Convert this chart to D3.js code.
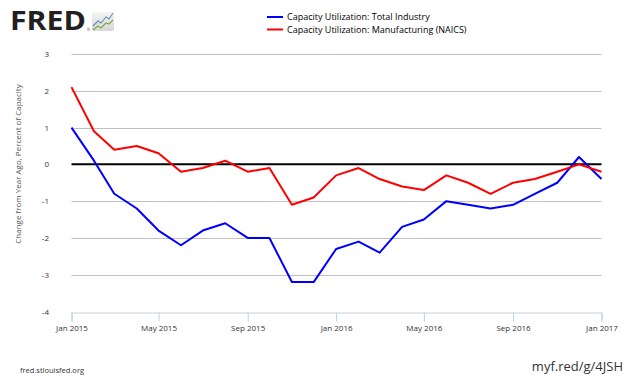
<!DOCTYPE html>
<html><head><meta charset="utf-8">
<script src="https://cdn.jsdelivr.net/npm/d3@7"></script>
<style>
html,body{margin:0;padding:0;background:#fff;}
svg{display:block;}
text{font-family:"Open Sans",sans-serif;}
</style></head>
<body>
<svg id="chart" width="630" height="378"></svg>
<script>
const months = ["2015-01","2015-02","2015-03","2015-04","2015-05","2015-06","2015-07","2015-08","2015-09","2015-10","2015-11","2015-12",
  "2016-01","2016-02","2016-03","2016-04","2016-05","2016-06","2016-07","2016-08","2016-09","2016-10","2016-11","2016-12","2017-01"];
const totalIndustry = [1.0,0.1,-0.8,-1.2,-1.8,-2.2,-1.8,-1.6,-2.0,-2.0,-3.2,-3.2,-2.3,-2.1,-2.4,-1.7,-1.5,-1.0,-1.1,-1.2,-1.1,-0.8,-0.5,0.2,-0.4];
const manufacturing = [2.1,0.9,0.4,0.5,0.3,-0.2,-0.1,0.1,-0.2,-0.1,-1.1,-0.9,-0.3,-0.1,-0.4,-0.6,-0.7,-0.3,-0.5,-0.8,-0.5,-0.4,-0.2,0.0,-0.2];
const seriesNames = ["Capacity Utilization: Total Industry","Capacity Utilization: Manufacturing (NAICS)"];
const seriesColors = ["#0000ff","#ff0000"];
const yTicks = [3,2,1,0,-1,-2,-3,-4];
const xTickDates = ["2015-01","2015-05","2015-09","2016-01","2016-05","2016-09","2017-01"];
const yTitle = "Change from Year Ago, Percent of Capacity";

const parse = d3.timeParse("%Y-%m");
const svg = d3.select("#chart");

const x = d3.scaleTime().domain([parse("2015-01"), parse("2017-01")]).range([71.5, 601.5]);
const y = d3.scaleLinear().domain([-4, 3]).range([311.5, 54]);

// grid lines
svg.append("g").selectAll("line").data(yTicks.filter(t => t > -4 && t !== 0)).join("line")
  .attr("x1", 71.5).attr("x2", 601.5)
  .attr("y1", d => Math.round(y(d)) + 0.5).attr("y2", d => Math.round(y(d)) + 0.5)
  .attr("stroke", "#c0c0c0").attr("stroke-width", 1);

// y tick labels
svg.append("g").selectAll("text").data(yTicks).join("text")
  .attr("x", 49).attr("y", d => y(d) + 3)
  .attr("text-anchor", "end").attr("font-size", 8).attr("fill", "#333")
  .text(d => d);

// x axis
const xAxis = d3.axisBottom(x)
  .tickValues(xTickDates.map(parse))
  .tickFormat(d3.timeFormat("%b %Y"))
  .tickSize(9).tickPadding(4);
const gx = svg.append("g").attr("transform", `translate(0,${Math.round(y(-4)) + 0.5})`).call(xAxis);
gx.select(".domain").attr("stroke", "#c0d0e0");
gx.selectAll(".tick line").attr("stroke", "#c0d0e0");
gx.selectAll(".tick text").attr("font-family", "Open Sans, sans-serif").attr("font-size", 8).attr("fill", "#333");

// zero line
svg.append("line").attr("x1", 71.5).attr("x2", 601.5)
  .attr("y1", y(0)).attr("y2", y(0)).attr("stroke", "#000").attr("stroke-width", 2);

// series
const line = d3.line().x((d, i) => x(parse(months[i]))).y(d => y(d));
[totalIndustry, manufacturing].forEach((s, k) => {
  svg.append("path").datum(s).attr("d", line)
    .attr("fill", "none").attr("stroke", seriesColors[k]).attr("stroke-width", 2)
    .attr("stroke-linejoin", "round");
});

// y title
svg.append("text").attr("transform", "translate(21,164) rotate(-90)")
  .attr("text-anchor", "middle").attr("font-size", 8).attr("fill", "#555")
  .text(yTitle);

// legend
seriesNames.forEach((n, k) => {
  const ly = 17 + k * 12.5;
  svg.append("line").attr("x1", 267).attr("x2", 283).attr("y1", ly).attr("y2", ly)
    .attr("stroke", seriesColors[k]).attr("stroke-width", 2);
  svg.append("text").attr("x", 287).attr("y", ly + 3).attr("font-size", 9).attr("fill", "#000").text(n);
});

// FRED logo
svg.append("text").attr("x", 10).attr("y", 30)
  .attr("font-family", "Liberation Sans, Arial, sans-serif").attr("font-weight", "bold")
  .attr("font-size", 26.5).attr("fill", "#231f20")
  .attr("textLength", 76).attr("lengthAdjust", "spacingAndGlyphs").text("FRED");
svg.append("text").attr("x", 87).attr("y", 31).attr("font-size", 3.5).attr("fill", "#231f20").text("®");
const defs = svg.append("defs");
const gr = defs.append("linearGradient").attr("id", "lg").attr("x1", 0).attr("y1", 0).attr("x2", 0).attr("y2", 1);
gr.append("stop").attr("offset", "0%").attr("stop-color", "#f4f4f4");
gr.append("stop").attr("offset", "100%").attr("stop-color", "#d6d6d6");
svg.append("rect").attr("x", 92).attr("y", 12).attr("width", 22).attr("height", 19).attr("rx", 2).attr("fill", "url(#lg)");
svg.append("path").attr("d", "M93,26 L98,21 L101,23 L106,17 L109,19 L113,13")
  .attr("fill", "none").attr("stroke", "#6a8fb5").attr("stroke-width", 1.1);
svg.append("path").attr("d", "M93,30 L98,26 L101,28 L106,23 L109,24 L113,20")
  .attr("fill", "none").attr("stroke", "#7aa84a").attr("stroke-width", 1.1);

// footer
svg.append("text").attr("x", 20).attr("y", 373).attr("font-size", 7.5).attr("fill", "#333").text("fred.stlouisfed.org");
svg.append("text").attr("x", 623).attr("y", 371).attr("text-anchor", "end").attr("font-size", 13).attr("fill", "#333").text("myf.red/g/4JSH");
</script>
</body></html>
